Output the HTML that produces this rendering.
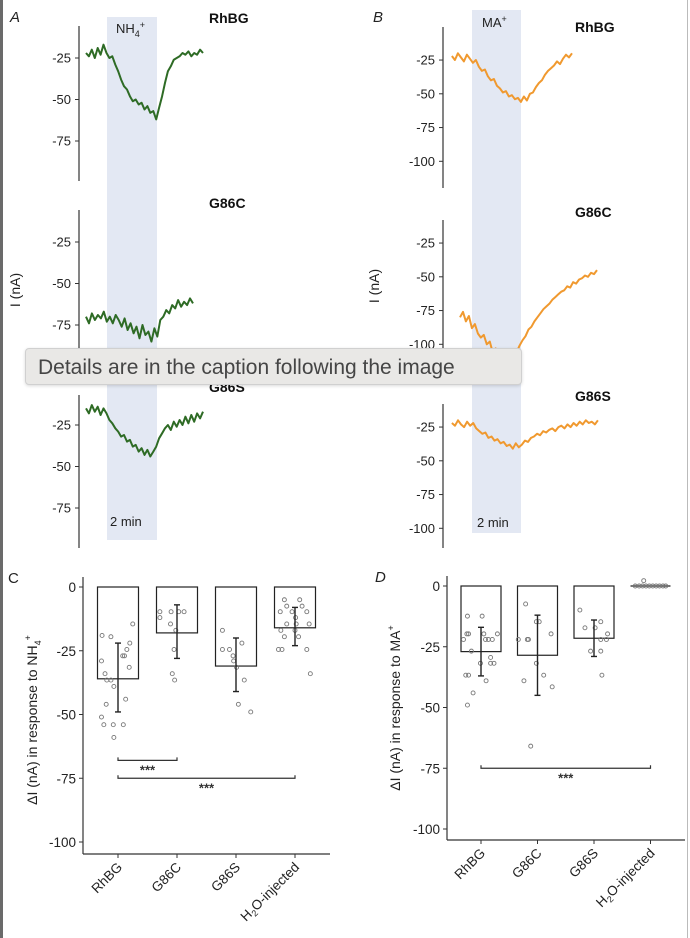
<!DOCTYPE html>
<html><head><meta charset="utf-8">
<style>
html,body{margin:0;padding:0;background:#fff;}
#wrap{position:relative;width:690px;height:938px;overflow:hidden;font-family:"Liberation Sans",sans-serif;}
#tip{position:absolute;left:25px;top:348px;width:497px;height:37px;background:#e9e8e6;border:1px solid #d0d0d0;border-radius:4px;box-sizing:border-box;font-size:21px;color:#454545;line-height:37px;padding-left:12px;box-shadow:0 1px 3px rgba(0,0,0,0.15);}
#lb{position:absolute;left:0;top:0;width:3px;height:938px;background:#6a6a6a;}
#rb{position:absolute;left:687px;top:0;width:1px;height:938px;background:#bbb;}
</style></head>
<body>
<div id="wrap">
<svg id="svg" width="690" height="938" xmlns="http://www.w3.org/2000/svg" font-family="Liberation Sans, sans-serif"></svg>
<div id="lb"></div>
<div id="rb"></div>
<div id="tip">Details are in the caption following the image</div>
</div>
<script>
// ---- trace data (nA) ----
const traceA_RhBG=[-22,-24,-20,-25,-19,-23,-17,-22,-25,-24,-29,-33,-38,-42,-44,-48,-51,-50,-53,-52,-56,-54,-58,-57,-62,-55,-48,-40,-33,-30,-26,-25,-24,-22,-23,-21,-24,-22,-23,-20,-22];
const traceA_G86C=[-70,-74,-68,-72,-69,-71,-67,-73,-70,-74,-69,-72,-76,-71,-78,-74,-80,-76,-83,-75,-81,-79,-85,-77,-82,-72,-70,-66,-68,-63,-65,-60,-64,-61,-63,-59,-62];
const traceA_G86S=[-15,-18,-13,-17,-14,-19,-15,-18,-22,-24,-27,-29,-32,-31,-35,-34,-38,-37,-41,-39,-43,-40,-44,-41,-38,-33,-30,-27,-25,-28,-23,-26,-22,-25,-20,-24,-19,-23,-18,-21,-17];
const traceB_RhBG=[-22,-25,-20,-23,-26,-21,-24,-27,-25,-30,-33,-32,-37,-40,-39,-44,-46,-49,-48,-52,-51,-54,-53,-56,-52,-55,-50,-49,-45,-42,-40,-36,-33,-31,-29,-26,-28,-24,-21,-23,-20];
const traceB_G86C=[-80,-76,-83,-79,-88,-85,-92,-95,-93,-100,-98,-106,-103,-110,-112,-108,-115,-113,-110,-106,-101,-97,-94,-89,-87,-83,-80,-77,-74,-72,-70,-67,-65,-63,-61,-60,-57,-58,-54,-55,-52,-51,-49,-50,-47,-48,-45];
const traceB_G86S=[-22,-24,-20,-23,-25,-21,-24,-22,-26,-28,-30,-29,-33,-32,-35,-34,-37,-36,-39,-38,-41,-37,-40,-38,-35,-36,-33,-32,-30,-31,-28,-29,-27,-26,-28,-25,-24,-26,-23,-25,-22,-24,-21,-23,-20,-22,-21,-23,-20];
// trace time spans (min, relative to perfusion start)
const traceStartA=[-0.84,-0.84,-0.84], traceEndA=[3.84,3.44,3.84];
const traceStartB=[-0.82,-0.49,-0.82], traceEndB=[4.08,5.1,5.14];
const traceTicksA=[-25,-50,-75], traceTicksB=[-25,-50,-75,-100];
// ---- summary bar data ----
const categories=["RhBG","G86C","G86S","H2O-injected"];
const meanC=[-36,-18,-31,-16], errLoC=[-49,-28,-41,-23], errHiC=[-22,-7,-20,-8];
const meanD=[-27,-28.5,-21.5,0], errLoD=[-37,-45,-29,0], errHiD=[-17,-12,-14,0];
const barTicks=[0,-25,-50,-75,-100];
const dotsC=[
 [[-19,-0.27],[-29,-0.28],[-34,-0.22],[-36.5,-0.19],[-36.5,-0.12],[-39,-0.07],[-46,-0.2],[-51,-0.28],[-54,-0.24],[-54,-0.08],[-54,0.09],[-59,-0.07],[-19.5,-0.12],[-14.5,0.25],[-22,0.2],[-24.5,0.15],[-27,0.11],[-27,0.08],[-31.5,0.19],[-44,0.13]],
 [[-9.7,-0.29],[-12,-0.29],[-9.7,-0.1],[-9.7,0.03],[-9.7,0.12],[-14.5,-0.11],[-17,-0.02],[-24.5,-0.05],[-34,-0.08],[-36.5,-0.04]],
 [[-17,-0.23],[-24.5,-0.23],[-24.5,-0.11],[-22,0.1],[-27,-0.05],[-29,-0.04],[-31.5,0.01],[-36.5,0.14],[-46,0.04],[-49,0.25]],
 [[-5,-0.18],[-5,0.08],[-7.5,-0.14],[-7.5,0.12],[-9.7,-0.25],[-9.7,-0.05],[-9.7,0.2],[-12,0.01],[-14.5,-0.14],[-14.5,0.02],[-14.5,0.24],[-17,-0.24],[-17,0],[-19.5,-0.18],[-19.5,0.06],[-24.5,-0.28],[-24.5,-0.22],[-24.5,0.2],[-34,0.26]]
];
const dotsD=[
 [[-12.4,-0.24],[-12.4,0.02],[-22,-0.31],[-19.7,-0.25],[-19.7,-0.22],[-19.7,0.05],[-19.7,0.29],[-22,0.08],[-22,0.13],[-22,0.2],[-26.8,-0.17],[-31.8,-0.01],[-29.4,0.17],[-31.8,0.17],[-31.8,0.23],[-36.7,-0.27],[-36.7,-0.22],[-39,0.09],[-44,-0.14],[-49,-0.24]],
 [[-7.4,-0.21],[-22,-0.34],[-22,-0.18],[-22,-0.16],[-14.7,-0.02],[-14.7,0.03],[-19.7,0.24],[-31.8,-0.02],[-36.7,0.11],[-39,-0.24],[-41.5,0.26],[-65.9,-0.12]],
 [[-9.9,-0.25],[-17.2,-0.16],[-17.2,0.02],[-14.7,0.12],[-19.7,0.24],[-22,0.12],[-22,0.22],[-26.8,-0.06],[-26.8,0.12],[-36.7,0.14]],
 [[0,-0.27],[0,-0.2],[0,-0.14],[0,-0.08],[0,-0.02],[0,0.04],[0,0.1],[0,0.16],[0,0.22],[0,0.27],[2.2,-0.12]]
];
const sigC=[[0,1,-68],[0,3,-75]], sigD=[[0,3,-75]];

const svg=document.getElementById('svg');
const NS='http://www.w3.org/2000/svg';
function mk(tag,attrs,parent,name){const e=document.createElementNS(NS,tag);for(const k in attrs)e.setAttribute(k,attrs[k]);
 
 
 (parent||svg).appendChild(e);return e;}
function txt(x,y,s,attrs,name){const t=mk('text',Object.assign({x:x,y:y,'font-size':13,fill:'#222'},attrs||{}),svg,name);t.textContent=s;return t;}

// shaded bands
mk('rect',{x:107,y:17,width:50,height:523,fill:'#e3e8f3'},svg,'perfusion-band-a');
mk('rect',{x:472,y:10,width:49,height:523,fill:'#e3e8f3'},svg,'perfusion-band-b');

function tracePanel(o){
 const g=mk('g',{},svg,o.name);
 const y=v=>o.zero-v*o.k;
 const x=t=>o.bx+t*o.kx;
 mk('line',{x1:o.ax,x2:o.ax,y1:o.top,y2:o.bot,stroke:'#333','stroke-width':1.2},g,'y-axis');
 o.ticks.forEach(v=>{
  mk('line',{x1:o.ax-4,x2:o.ax,y1:y(v),y2:y(v),stroke:'#333','stroke-width':1},g,'y-tick');
  const t=mk('text',{x:o.ax-8,y:y(v)+4.5,'text-anchor':'end','font-size':13,fill:'#222'},g,'y-tick-label');t.textContent=v;
 });
 const d=o.data, n=d.length;
 let p='';
 d.forEach((v,i)=>{const t=o.t0+(o.t1-o.t0)*i/(n-1);p+=(i?'L':'M')+x(t).toFixed(1)+' '+y(v).toFixed(1);});
 mk('path',{d:p,fill:'none',stroke:o.color,'stroke-width':2,'stroke-linejoin':'round'},g,'current-trace');
 const l=mk('text',{x:o.lx,y:o.ly,'font-size':14,'font-weight':'bold',fill:'#111'},g,'trace-title');l.textContent=o.label;
}
const gA='#2e6b25', oB='#f0992f';
const As=[{zero:16.5,top:26,bot:181,ly:23},{zero:200.5,top:210,bot:365,ly:208},{zero:383.5,top:395,bot:548,ly:392}];
const Bs=[{zero:26.3,top:27,bot:188,ly:32},{zero:209.3,top:220,bot:362,ly:217},{zero:393.3,top:404,bot:548,ly:401}];
const labs=['RhBG','G86C','G86S'];
const dA=[traceA_RhBG,traceA_G86C,traceA_G86S], dB=[traceB_RhBG,traceB_G86C,traceB_G86S];
for(let i=0;i<3;i++){
 tracePanel({name:'trace-a-'+labs[i].toLowerCase(),ax:79,k:1.66,zero:As[i].zero,top:As[i].top,bot:As[i].bot,bx:107,kx:25,ticks:traceTicksA,data:dA[i],t0:traceStartA[i],t1:traceEndA[i],color:gA,label:labs[i],lx:209,ly:As[i].ly});
 tracePanel({name:'trace-b-'+labs[i].toLowerCase(),ax:443,k:1.35,zero:Bs[i].zero,top:Bs[i].top,bot:Bs[i].bot,bx:472,kx:24.5,ticks:traceTicksB,data:dB[i],t0:traceStartB[i],t1:traceEndB[i],color:oB,label:labs[i],lx:575,ly:Bs[i].ly});
}
txt(10,22,'A',{'font-style':'italic','font-size':15},'panel-label-a');
txt(373,22,'B',{'font-style':'italic','font-size':15},'panel-label-b');
const na=txt(116,33,'NH',{'font-size':13},'agonist-label-nh4');
na.innerHTML='NH<tspan font-size="9" dy="4">4</tspan><tspan font-size="9" dy="-9">+</tspan>';
const ma=txt(482,27,'MA',{'font-size':13},'agonist-label-ma');
ma.innerHTML='MA<tspan font-size="9" dy="-5">+</tspan>';
txt(110,526,'2 min',{'font-size':13},'scale-label-a');
txt(477,527,'2 min',{'font-size':13},'scale-label-b');
txt(0,0,'I (nA)',{'font-size':14,transform:'translate(20,290) rotate(-90)','text-anchor':'middle'},'y-axis-title-a');
txt(0,0,'I (nA)',{'font-size':14,transform:'translate(379,286) rotate(-90)','text-anchor':'middle'},'y-axis-title-b');

function barPanel(o){
 const g=mk('g',{},svg,o.name);
 const y=v=>o.zero-v*o.k;
 const x=i=>o.c0+i*o.step;
 mk('line',{x1:o.ax,x2:o.ax,y1:o.top,y2:o.xb,stroke:'#333','stroke-width':1.2},g,'y-axis');
 mk('line',{x1:o.ax,x2:o.xr,y1:o.xb,y2:o.xb,stroke:'#333','stroke-width':1.2},g,'x-axis');
 barTicks.forEach(v=>{
  mk('line',{x1:o.ax-4,x2:o.ax,y1:y(v),y2:y(v),stroke:'#333'},g,'y-tick');
  const t=mk('text',{x:o.ax-7,y:y(v)+5,'text-anchor':'end','font-size':13.5,fill:'#222'},g,'y-tick-label');t.textContent=v;
 });
 categories.forEach((c,i)=>{
  mk('line',{x1:x(i),x2:x(i),y1:o.xb,y2:o.xb+4,stroke:'#333'},g,'x-tick');
  const t=mk('text',{x:0,y:0,'text-anchor':'end','font-size':13.5,fill:'#222',transform:'translate('+(x(i)+5)+','+(o.xb+14)+') rotate(-45)'},g,'x-tick-label');
  if(c==='H2O-injected')t.innerHTML='H<tspan font-size="9" dy="3">2</tspan><tspan dy="-3">O-injected</tspan>';else t.textContent=c;
  const m=o.mean[i];
  if(m!==0) mk('rect',{x:x(i)-o.bw/2,y:y(0),width:o.bw,height:y(m)-y(0),fill:'none',stroke:'#222','stroke-width':1.2},g,'bar-'+c.toLowerCase());
  else mk('line',{x1:x(i)-o.bw/2,x2:x(i)+o.bw/2,y1:y(0),y2:y(0),stroke:'#222','stroke-width':1.2},g,'bar-'+c.toLowerCase());
  o.dots[i].forEach(dv=>{
   mk('circle',{cx:x(i)+dv[1]*o.step,cy:y(dv[0]),r:2,fill:'none',stroke:'#777','stroke-width':0.9},g,'data-point');
  });
  if(o.lo[i]!==o.hi[i]){
   mk('line',{x1:x(i),x2:x(i),y1:y(o.hi[i]),y2:y(o.lo[i]),stroke:'#222','stroke-width':1.4},g,'error-bar');
   [o.hi[i],o.lo[i]].forEach(v=>mk('line',{x1:x(i)-3,x2:x(i)+3,y1:y(v),y2:y(v),stroke:'#222','stroke-width':1.4},g,'error-cap'));
  }
 });
 o.sig.forEach(s=>{
  const x1=x(s[0]),x2=x(s[1]),yy=y(s[2]);
  mk('path',{d:'M'+x1+' '+(yy-3)+'V'+yy+'H'+x2+'V'+(yy-3),fill:'none',stroke:'#333','stroke-width':1.2},g,'significance-bracket');
  const t=mk('text',{x:(x1+x2)/2,y:yy+14,'text-anchor':'middle','font-size':13,'font-weight':'bold',fill:'#333'},g,'significance-stars');t.textContent='***';
 });
}
barPanel({name:'bar-chart-c',ax:83,zero:587,k:2.55,top:577,xb:854,xr:330,c0:118,step:59,bw:41,mean:meanC,lo:errLoC,hi:errHiC,dots:dotsC,sig:sigC});
barPanel({name:'bar-chart-d',ax:447,zero:586,k:2.43,top:576,xb:840,xr:685,c0:481,step:56.5,bw:40,mean:meanD,lo:errLoD,hi:errHiD,dots:dotsD,sig:sigD});
txt(8,583,'C',{'font-size':15},'panel-label-c');
txt(375,582,'D',{'font-style':'italic','font-size':15},'panel-label-d');
const yc=txt(0,0,'',{'font-size':14,'text-anchor':'middle',transform:'translate(37,720) rotate(-90)'},'y-axis-title-c');
yc.innerHTML='ΔI (nA) in response to NH<tspan font-size="9" dy="4">4</tspan><tspan font-size="9" dy="-10">+</tspan>';
const yd=txt(0,0,'',{'font-size':14,'text-anchor':'middle',transform:'translate(400,708) rotate(-90)'},'y-axis-title-d');
yd.innerHTML='ΔI (nA) in response to MA<tspan font-size="9" dy="-6">+</tspan>';
</script>
</body></html>
